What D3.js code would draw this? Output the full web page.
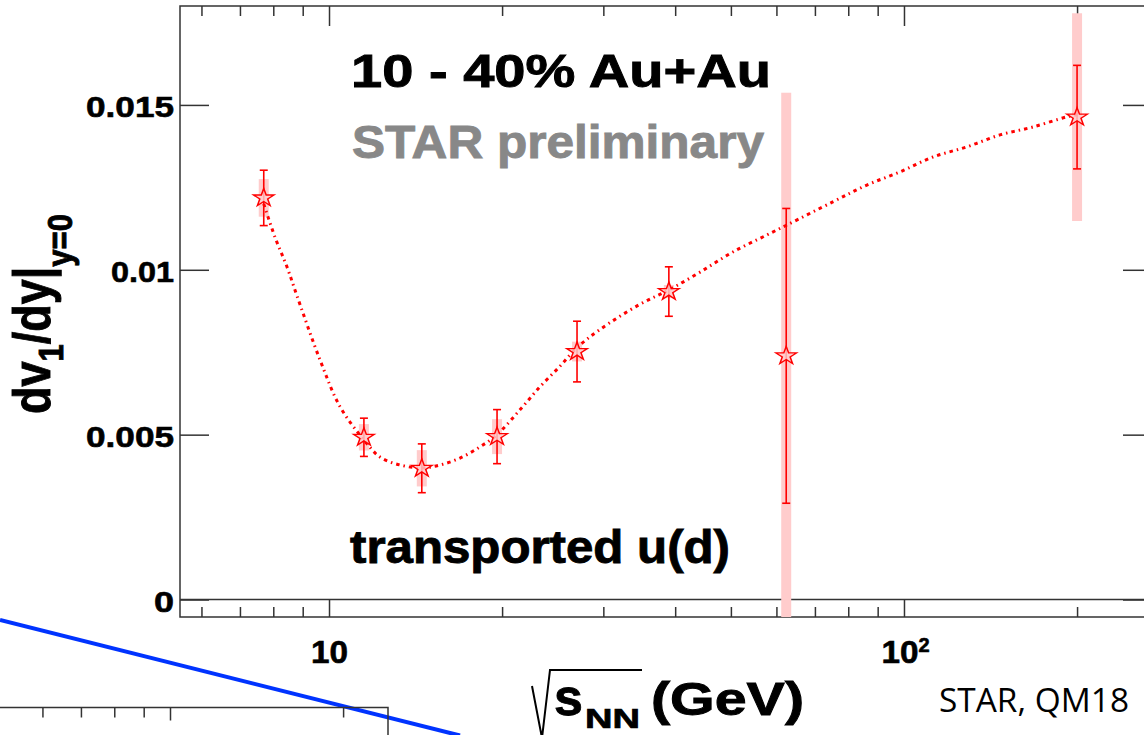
<!DOCTYPE html>
<html>
<head>
<meta charset="utf-8">
<script src="https://cdn.jsdelivr.net/npm/d3@7"></script>
<style>
  body { margin: 0; background: #fff; }
  svg { display: block; }
</style>
</head>
<body>
<svg id="chart" width="1144" height="735"></svg>
<script>
// measured points: beam energy (GeV) and dv1/dy slope
const energies = [7.7, 11.5, 14.5, 19.6, 27, 39, 62.4, 200];
const slopes = [0.01218, 0.00492, 0.00398, 0.00494, 0.00752, 0.00934, 0.00739, 0.01463];
const statErr = [0.00084, 0.00058, 0.00074, 0.00082, 0.00092, 0.00075, 0.00447, 0.00157];
const sysErr = [0.00057, 0.0004, 0.00055, 0.00053, 0.0003, 0.0002, 0.00798, 0.00315];

// smooth fit drawn through the points
const fitEnergies = [7.7, 8.05, 8.45, 8.8, 9.65, 10.45, 11.5, 12.27, 13.29, 14.5, 15.6, 16.9, 18.3, 19.6,
  21.5, 23.3, 25.2, 27, 29.6, 34.7, 39.2, 44.2, 50.4, 57.8, 62.6, 75.2, 86.2, 98.4, 112.3, 128.7, 146.9, 167.6, 192.1, 200];
const fitSlopes = [0.0120, 0.0110, 0.01009, 0.0092, 0.00726, 0.00585, 0.00484, 0.00432, 0.00408, 0.00399, 0.00408,
  0.00429, 0.00463, 0.00500, 0.00576, 0.00646, 0.00707, 0.00764, 0.00819, 0.00895, 0.00941, 0.00993, 0.01054,
  0.01106, 0.01136, 0.01206, 0.01257, 0.01297, 0.01342, 0.01373, 0.01409, 0.01433, 0.01464, 0.0147];

const yTicks = [0, 0.005, 0.01, 0.015];
const yTickLabels = ['0', '0.005', '0.01', '0.015'];
const xMajor = [10, 100];
const xMinor = [6, 7, 8, 9, 20, 30, 40, 50, 60, 70, 80, 90, 200];
const lowerMajor = [10];
const lowerMinor = [6, 7, 8, 9, 20];

const svg = d3.select('#chart');
const frame = { left: 180, right: 1152, top: 6, bottom: 617 };
const red = '#ff0000';
const pink = '#ffcccc';
const font = '"Liberation Sans", Arial, Helvetica, sans-serif';

const x = d3.scaleLog().domain([5.506, 270]).range([frame.left, frame.right]);
const y = d3.scaleLinear().domain([-0.00053, 0.018]).range([frame.bottom, frame.top]);

svg.append('defs').append('clipPath').attr('id', 'plotClip')
  .append('rect')
  .attr('x', frame.left).attr('y', frame.top)
  .attr('width', frame.right - frame.left).attr('height', frame.bottom - frame.top);

// axes, ROOT style: ticks pointing inward
const styleAxis = (g) => {
  g.select('.domain').remove();
  g.selectAll('line').attr('stroke', '#333').attr('stroke-width', 1.5);
};
// heavier look of the ROOT bold font
const heavy = (sel, w) => sel.attr('stroke', '#000').attr('stroke-width', w).attr('paint-order', 'stroke');

svg.append('g').attr('transform', `translate(0,${frame.bottom})`)
  .call(d3.axisBottom(x).tickValues(xMinor).tickSize(-10).tickFormat(''))
  .call(styleAxis);
const xAxisMajor = svg.append('g').attr('transform', `translate(0,${frame.bottom})`)
  .call(d3.axisBottom(x).tickValues(xMajor).tickSize(-18).tickPadding(24).tickFormat(() => ''))
  .call(styleAxis);
xAxisMajor.selectAll('text').each(function (d) {
  const t = d3.select(this)
    .attr('font-family', font).attr('font-weight', 'bold').attr('font-size', 31)
    .attr('fill', '#000').call(heavy, 0.6);
  if (d === 10) {
    t.text('10').attr('textLength', 37).attr('lengthAdjust', 'spacingAndGlyphs');
  } else {
    t.attr('text-anchor', 'start').attr('x', -23);
    t.append('tspan').text('10').attr('textLength', 37).attr('lengthAdjust', 'spacingAndGlyphs');
    t.append('tspan').text('2').attr('font-size', 20).attr('dy', '-0.55em');
  }
});

svg.append('g').attr('transform', `translate(0,${frame.top})`)
  .call(d3.axisTop(x).tickValues(xMinor).tickSize(-10).tickFormat(''))
  .call(styleAxis);
svg.append('g').attr('transform', `translate(0,${frame.top})`)
  .call(d3.axisTop(x).tickValues(xMajor).tickSize(-20).tickFormat(''))
  .call(styleAxis);

const yAxis = svg.append('g').attr('transform', `translate(${frame.left},0)`)
  .call(d3.axisLeft(y).tickValues(yTicks).tickSize(-29).tickPadding(6)
    .tickFormat((d, i) => yTickLabels[i]))
  .call(styleAxis);
yAxis.selectAll('text')
  .attr('font-family', font).attr('font-weight', 'bold').attr('font-size', 30)
  .attr('fill', '#000').attr('dy', '0.40em')
  .attr('lengthAdjust', 'spacingAndGlyphs')
  .attr('textLength', (d, i) => [20, 88, 63, 88][i])
  .call(heavy, 0.6);

svg.append('g').attr('transform', `translate(${frame.right},0)`)
  .call(d3.axisRight(y).tickValues(yTicks).tickSize(-29).tickFormat(''))
  .call(styleAxis);

// frame and zero line
svg.append('path')
  .attr('d', `M${frame.right},${frame.top}H${frame.left}V${frame.bottom}H${frame.right}`)
  .attr('fill', 'none').attr('stroke', '#333').attr('stroke-width', 1.5);
svg.append('line')
  .attr('x1', frame.left).attr('x2', frame.right)
  .attr('y1', y(0)).attr('y2', y(0))
  .attr('stroke', '#333').attr('stroke-width', 1.5);

// data layer
const pts = energies.map((e, i) => ({ e, v: slopes[i], stat: statErr[i], sys: sysErr[i] }));
const plot = svg.append('g').attr('clip-path', 'url(#plotClip)');

plot.selectAll('rect.sys').data(pts).join('rect').attr('class', 'sys')
  .attr('x', d => x(d.e) - 5).attr('width', 10)
  .attr('y', d => y(d.v + d.sys)).attr('height', d => y(d.v - d.sys) - y(d.v + d.sys))
  .attr('fill', pink);

const fitLine = d3.line()
  .x(d => x(d[0])).y(d => y(d[1]))
  .curve(d3.curveCatmullRom.alpha(0.5));
plot.append('path')
  .datum(fitEnergies.map((e, i) => [e, fitSlopes[i]]))
  .attr('d', fitLine)
  .attr('fill', 'none').attr('stroke', red).attr('stroke-width', 3)
  .attr('stroke-dasharray', '3.5,4,1.5,4');

const bars = plot.selectAll('g.err').data(pts).join('g').attr('class', 'err')
  .attr('stroke', red).attr('stroke-width', 1.6);
bars.append('line')
  .attr('x1', d => x(d.e)).attr('x2', d => x(d.e))
  .attr('y1', d => y(d.v + d.stat)).attr('y2', d => y(d.v - d.stat));
bars.append('line')
  .attr('x1', d => x(d.e) - 4).attr('x2', d => x(d.e) + 4)
  .attr('y1', d => y(d.v + d.stat)).attr('y2', d => y(d.v + d.stat));
bars.append('line')
  .attr('x1', d => x(d.e) - 4).attr('x2', d => x(d.e) + 4)
  .attr('y1', d => y(d.v - d.stat)).attr('y2', d => y(d.v - d.stat));

const star = d3.symbol(d3.symbolStar, 112);
plot.selectAll('path.star').data(pts).join('path').attr('class', 'star')
  .attr('d', star)
  .attr('transform', d => `translate(${x(d.e)},${y(d.v)}) scale(1.08,0.95)`)
  .attr('fill', '#ffd0d0').attr('fill-opacity', 0.8)
  .attr('stroke', red).attr('stroke-width', 1.4);

// labels inside the frame
const label = (txt, xPos, yPos, size, len, color) =>
  svg.append('text').attr('x', xPos).attr('y', yPos)
    .attr('font-family', font).attr('font-weight', 'bold').attr('font-size', size)
    .attr('fill', color || '#000')
    .attr('stroke', color || '#000').attr('stroke-width', 0.9)
    .attr('textLength', len).attr('lengthAdjust', 'spacingAndGlyphs')
    .text(txt);

label('10 - 40% Au+Au', 351, 87, 47, 420);
label('STAR preliminary', 352, 158, 46, 412, '#888');
label('transported u(d)', 350, 563, 46.5, 380);

// y title: dv1/dy|y=0
const yTitle = svg.append('text')
  .attr('transform', 'translate(50,414) rotate(-90) scale(1,1.15)')
  .attr('font-family', font).attr('font-weight', 'bold').attr('font-size', 45)
  .attr('fill', '#000').call(heavy, 0.8);
yTitle.append('tspan').text('dv');
yTitle.append('tspan').text('1').attr('font-size', 31).attr('dy', 11);
yTitle.append('tspan').text('/dy|').attr('dy', -11);
yTitle.append('tspan').text('y=0').attr('font-size', 31).attr('dy', 19);

// x title: sqrt(s_NN) (GeV)
svg.append('path')
  .attr('d', 'M532,686 L542,738 L550,670 L642,670')
  .attr('fill', 'none').attr('stroke', '#000').attr('stroke-width', 2);
const xTitle = svg.append('text')
  .attr('x', 554).attr('y', 715)
  .attr('font-family', font).attr('font-weight', 'bold').attr('font-size', 52)
  .attr('fill', '#000').call(heavy, 0.8)
  .text('s');
svg.append('text')
  .attr('x', 585).attr('y', 728)
  .attr('font-family', font).attr('font-weight', 'bold').attr('font-size', 27)
  .attr('fill', '#000').call(heavy, 0.7)
  .attr('textLength', 55).attr('lengthAdjust', 'spacingAndGlyphs')
  .text('NN');
label('(GeV)', 651, 715, 47, 153);

svg.append('text')
  .attr('x', 939).attr('y', 712)
  .attr('font-family', '"Open Sans", "Noto Sans", sans-serif').attr('font-size', 33)
  .attr('fill', '#000')
  .attr('textLength', 190).attr('lengthAdjust', 'spacingAndGlyphs')
  .text('STAR, QM18');

// slide overlay: blue arrow line and part of the neighbouring plot
svg.append('line')
  .attr('x1', 0).attr('y1', 620).attr('x2', 460).attr('y2', 735.5)
  .attr('stroke', '#0033ff').attr('stroke-width', 4);

const lowerFrameTop = 707.5;
const xLow = d3.scaleLog()
  .domain([Math.pow(10, 1 - 170 / 575), Math.pow(10, 1 + 218 / 575)])
  .range([0, 388]);
svg.append('g').attr('transform', `translate(0,${lowerFrameTop})`)
  .call(d3.axisTop(xLow).tickValues(lowerMinor).tickSize(-10).tickFormat(''))
  .call(styleAxis);
svg.append('g').attr('transform', `translate(0,${lowerFrameTop})`)
  .call(d3.axisTop(xLow).tickValues(lowerMajor).tickSize(-13).tickFormat(''))
  .call(styleAxis);
svg.append('path')
  .attr('d', `M0,${lowerFrameTop}H388V735`)
  .attr('fill', 'none').attr('stroke', '#333').attr('stroke-width', 1.5);
</script>
</body>
</html>
